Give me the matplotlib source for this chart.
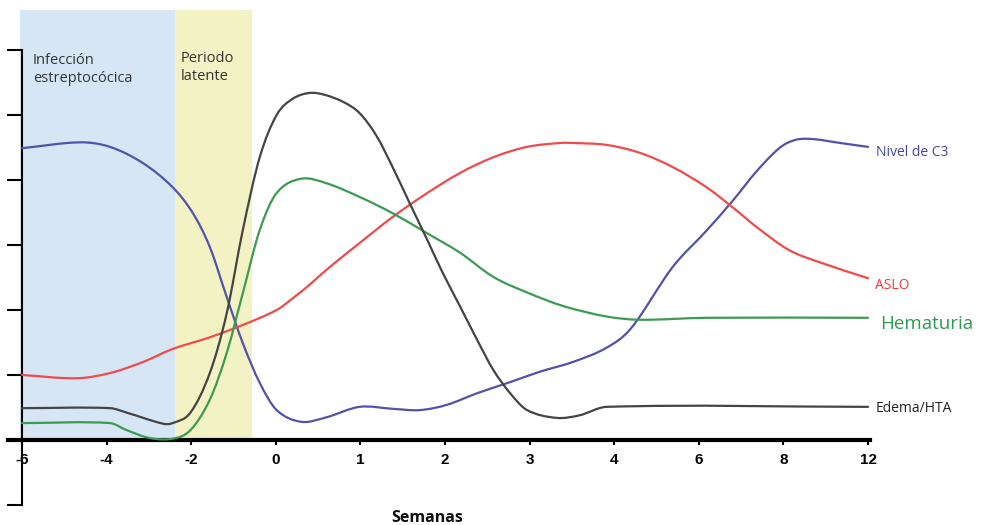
import numpy as np
import matplotlib.pyplot as plt
from matplotlib.patches import Rectangle, PathPatch
from matplotlib.path import Path

# week labels, equally spaced along the axis
semanas = ['-6', '-4', '-2', '0', '1', '2', '3', '4', '6', '8', '12']

# curves: x = position along the week axis, y = level
c3_x = [0, 0.69, 1.04, 1.43, 1.78, 2.02, 2.22, 2.42, 2.61, 2.81, 3.01, 3.30, 3.60, 3.99,
        4.38, 4.70, 5.02, 5.38, 5.77, 6.12, 6.51, 6.91, 7.20, 7.69, 8.09, 8.40,
        8.68, 8.96, 9.15, 9.35, 9.67, 10]
c3_y = [4.49, 4.58, 4.51, 4.26, 3.89, 3.49, 2.97, 2.20, 1.49, 0.88, 0.46, 0.28, 0.35, 0.51,
        0.48, 0.46, 0.54, 0.72, 0.89, 1.05, 1.20, 1.42, 1.72, 2.66, 3.22, 3.68,
        4.13, 4.50, 4.62, 4.63, 4.57, 4.51]

aslo_x = [0, 0.65, 1.04, 1.43, 1.78, 2.22, 2.61, 3.01, 3.20, 3.40, 3.60, 3.99, 4.38, 4.79,
          5.18, 5.57, 5.97, 6.36, 6.51, 6.91, 7.30, 7.69, 8.09, 8.40, 8.68, 9.07, 9.46, 10]
aslo_y = [1.0, 0.95, 1.03, 1.20, 1.40, 1.58, 1.77, 2.0, 2.18, 2.39, 2.62, 3.03, 3.43, 3.80,
          4.11, 4.35, 4.51, 4.57, 4.57, 4.54, 4.42, 4.20, 3.89, 3.58, 3.28, 2.92, 2.72, 2.49]

hem_x = [0, 1.04, 1.24, 1.51, 1.78, 1.99, 2.22, 2.42, 2.61, 2.81, 3.01, 3.30, 3.60, 3.99,
         4.38, 4.79, 5.18, 5.57, 5.97, 6.40, 6.91, 7.30, 8.09, 10]
hem_y = [0.26, 0.26, 0.15, 0.03, 0.02, 0.15, 0.62, 1.34, 2.26, 3.23, 3.80, 4.02, 3.95, 3.74,
         3.49, 3.18, 2.88, 2.51, 2.27, 2.06, 1.90, 1.85, 1.88, 1.88]

edema_x = [0, 1.04, 1.24, 1.67, 1.78, 1.99, 2.22, 2.42, 2.61, 2.81, 3.01, 3.20, 3.40, 3.58,
           3.80, 3.99, 4.19, 4.38, 4.58, 4.79, 4.97, 5.18, 5.38, 5.57, 5.77, 5.97, 6.32,
           6.59, 6.91, 10]
edema_y = [0.49, 0.49, 0.42, 0.25, 0.26, 0.42, 1.03, 1.95, 3.23, 4.35, 5.0, 5.25, 5.34, 5.31,
           5.20, 5.03, 4.68, 4.20, 3.65, 3.08, 2.58, 2.05, 1.54, 1.08, 0.72, 0.46, 0.34,
           0.38, 0.51, 0.51]


def curva(ax, x, y, color):
    # smooth bezier path through the read points (hermite tangents)
    x = np.asarray(x, float)
    y = np.asarray(y, float)
    n = len(x)
    m = np.zeros(n)
    m[0] = (y[1] - y[0]) / (x[1] - x[0])
    m[-1] = (y[-1] - y[-2]) / (x[-1] - x[-2])
    for i in range(1, n - 1):
        m[i] = (y[i + 1] - y[i - 1]) / (x[i + 1] - x[i - 1])
    verts = [(x[0], y[0])]
    codes = [Path.MOVETO]
    for i in range(n - 1):
        h = x[i + 1] - x[i]
        verts += [(x[i] + h / 3, y[i] + m[i] * h / 3),
                  (x[i + 1] - h / 3, y[i + 1] - m[i + 1] * h / 3),
                  (x[i + 1], y[i + 1])]
        codes += [Path.CURVE4] * 3
    ax.add_patch(PathPatch(Path(verts, codes), fill=False, ec=color, lw=1.6,
                           zorder=3, capstyle='round', joinstyle='round'))


fig = plt.figure(figsize=(9.89, 5.25), dpi=100)
ax = fig.add_axes([0, 0, 1, 1])
ax.set_xlim(-0.26, 11.43)
ax.set_ylim(-1.308, 6.77)

# phases
ax.add_patch(Rectangle((-0.02, 0), 1.83, 6.62, fc='#d6e6f4', ec='none', zorder=1))
ax.add_patch(Rectangle((1.81, 0), 0.91, 6.62, fc='#f2f2c4', ec='none', zorder=1))
ax.text(0.13, 5.95, 'Infección\nestreptocócica', family='Open Sans', fontsize=10.5,
        color='#333333', va='top', linespacing=1.25)
ax.text(1.88, 5.98, 'Periodo\nlatente', family='Open Sans', fontsize=10.5,
        color='#333333', va='top', linespacing=1.25)

curva(ax, c3_x, c3_y, '#5252aa')
curva(ax, aslo_x, aslo_y, '#f04a4a')
curva(ax, hem_x, hem_y, '#3c9a52')
curva(ax, edema_x, edema_y, '#444444')

ax.text(10.09, 4.42, 'Nivel de C3', family='Open Sans', fontsize=10, color='#4545a0', va='center')
ax.text(10.08, 2.38, 'ASLO', family='Open Sans', fontsize=10, color='#ee3a3a', va='center')
ax.text(10.14, 1.78, 'Hematuria', family='Open Sans', fontsize=13.5, color='#2e9a50', va='center')
ax.text(10.09, 0.49, 'Edema/HTA', family='Open Sans', fontsize=10, color='#222222', va='center')

# axes
for s in ['top', 'right']:
    ax.spines[s].set_visible(False)
ax.spines['left'].set_position(('data', 0))
ax.spines['left'].set_bounds(-1, 6)
ax.spines['left'].set_linewidth(1.5)
ax.spines['bottom'].set_position(('data', 0))
ax.spines['bottom'].set_bounds(-0.165, 10.02)
ax.spines['bottom'].set_linewidth(3)
ax.set_yticks(range(-1, 7))
ax.set_yticklabels([])
ax.tick_params(axis='y', direction='out', length=10.5, width=1.5)
ax.set_xticks(range(len(semanas)))
ax.set_xticklabels(semanas, family='Liberation Sans', fontweight='bold', fontsize=11)
ax.tick_params(axis='x', direction='out', length=3.5, width=1.5, pad=6)

ax.text(4.79, -1.2, 'Semanas', family='Open Sans', fontweight='bold', fontsize=11.5,
        ha='center', va='center', color='#111111')

plt.savefig('out.png', dpi=100)
